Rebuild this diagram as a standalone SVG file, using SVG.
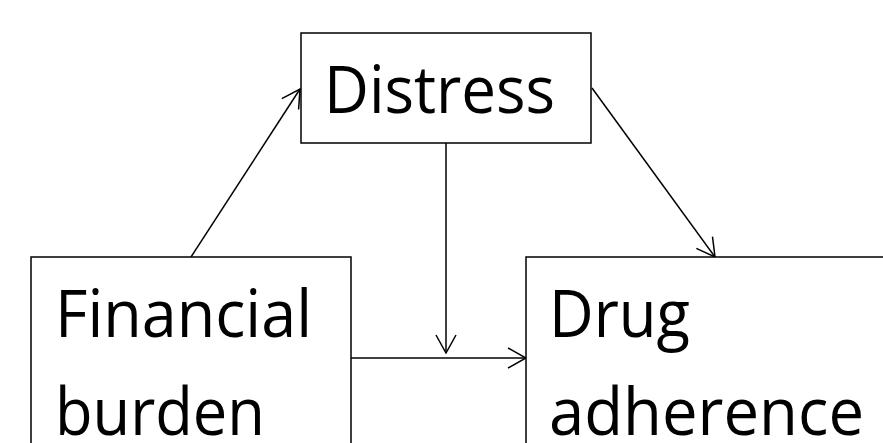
<svg xmlns="http://www.w3.org/2000/svg" width="883" height="443" viewBox="0 0 883 443">
<style>
.box{fill:#fff;stroke:#000;stroke-width:1.5}
.lbl{font-family:"Open Sans","Liberation Sans",sans-serif;font-size:66px;fill:#000}
.edge{fill:none;stroke:#000;stroke-width:1.5}
</style>
<defs>
<marker id="arr" viewBox="0 0 20 22" refX="19" refY="11" markerWidth="20" markerHeight="22" markerUnits="userSpaceOnUse" orient="auto">
<path d="M1,1 L19,11 L1,21" fill="none" stroke="#000" stroke-width="1.5"/>
</marker>
</defs>
<rect width="883" height="443" fill="#fff"/>
<g id="edges">
<line class="edge" x1="191" y1="257" x2="300" y2="89" marker-end="url(#arr)"/>
<line class="edge" x1="592" y1="88" x2="715" y2="257" marker-end="url(#arr)"/>
<line class="edge" x1="446" y1="143" x2="446" y2="353" marker-end="url(#arr)"/>
<line class="edge" x1="351" y1="358" x2="526" y2="358" marker-end="url(#arr)"/>
</g>
<g id="distress">
<rect class="box" x="301" y="33" width="290" height="110"/>
<text class="lbl" x="324" y="113" textLength="231" lengthAdjust="spacingAndGlyphs">Distress</text>
</g>
<g id="financial">
<rect class="box" x="31" y="257" width="320" height="200"/>
<text class="lbl" x="55" y="337" textLength="257" lengthAdjust="spacingAndGlyphs">Financial</text>
<text class="lbl" x="55" y="435" textLength="210" lengthAdjust="spacingAndGlyphs">burden</text>
</g>
<g id="adherence">
<rect class="box" x="526" y="257" width="370" height="200"/>
<text class="lbl" x="549" y="337" textLength="141" lengthAdjust="spacingAndGlyphs">Drug</text>
<text class="lbl" x="549" y="435" textLength="315" lengthAdjust="spacingAndGlyphs">adherence</text>
</g>
</svg>
